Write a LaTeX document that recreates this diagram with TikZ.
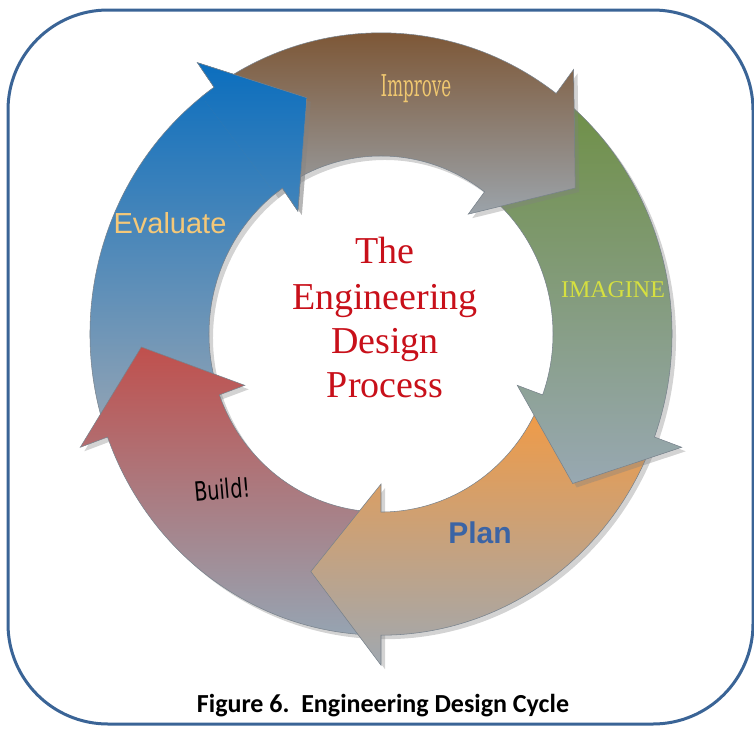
\documentclass[tikz,border=0pt]{standalone}
\usepackage{fontspec}
\usepackage{graphicx}
\setmainfont{Liberation Serif}
\setsansfont{Liberation Sans}
\newfontfamily\captionfont{Carlito}
\newfontfamily\improvefont{DejaVu Serif Condensed}
\newfontfamily\buildfont{DejaVu Sans}
\usetikzlibrary{shadows}

\definecolor{frameblue}{RGB}{58,100,150}
\definecolor{improvetop}{RGB}{122,79,42}
\definecolor{improvebot}{RGB}{155,163,170}
\definecolor{imaginetop}{RGB}{110,143,68}
\definecolor{imaginebot}{RGB}{152,168,178}
\definecolor{plantop}{RGB}{245,154,64}
\definecolor{planbot}{RGB}{160,168,176}
\definecolor{buildtop}{RGB}{192,80,77}
\definecolor{buildbot}{RGB}{150,164,178}
\definecolor{evaltop}{RGB}{11,110,190}
\definecolor{evalbot}{RGB}{150,165,180}
\definecolor{titlered}{RGB}{200,16,26}

\begin{document}
\begin{tikzpicture}[x=0.75pt,y=0.75pt,yscale=-1,xscale=1,
    ringarrow/.style={draw={rgb, 255:red, 120; green, 130; blue, 140 }, line width=0.4,
      drop shadow={shadow xshift=3pt, shadow yshift=-3pt, opacity=0.35}}]
        \useasboundingbox (0,0) rectangle (754,729);

        %Shape: Rounded Rect [id:frame]
        \draw [color=frameblue, line width=2.25, rounded corners=75pt] (8,10) rectangle (753,724);

        \begin{scope}[shift={(381,334)}, yscale=-1.035]
        %Shape: Arrow [id:evaluate]
        \path [ringarrow, top color=evaltop, bottom color=evalbot] (200:291) arc [start angle=200, end angle=125, radius=291] -- (125:320) -- (108:240) -- (125:145) -- (125:172) arc [start angle=125, end angle=200, radius=172] -- cycle ;
        %Shape: Arrow [id:build]
        \path [ringarrow, top color=buildtop, bottom color=buildbot] (-90:291) arc [start angle=-90, end angle=-160, radius=291] -- (-160:320) -- (-177:240) -- (-160:145) -- (-160:172) arc [start angle=-160, end angle=-90, radius=172] -- cycle ;
        %Shape: Arrow [id:plan]
        \path [ringarrow, top color=plantop, bottom color=planbot] (-20:291) arc [start angle=-20, end angle=-90, radius=291] -- (-90:320) -- (-107:240) -- (-90:145) -- (-90:172) arc [start angle=-90, end angle=-20, radius=172] -- cycle ;
        %Shape: Arrow [id:imagine]
        \path [ringarrow, top color=imaginetop, bottom color=imaginebot] (53:291) arc [start angle=53, end angle=-20, radius=291] -- (-20:320) -- (-37:240) -- (-20:145) -- (-20:172) arc [start angle=-20, end angle=53, radius=172] -- cycle ;
        %Shape: Arrow [id:improve]
        \path [ringarrow, top color=improvetop, bottom color=improvebot] (125:291) arc [start angle=125, end angle=53, radius=291] -- (53:320) -- (36:240) -- (53:145) -- (53:172) arc [start angle=53, end angle=125, radius=172] -- cycle ;
        %Shape: Arrow head again, on top of the improve tail
        \begin{scope}
        \clip (128:350) -- (102:245) -- (128:115) -- cycle ;
        \path [ringarrow, top color=evaltop, bottom color=evalbot] (200:291) arc [start angle=200, end angle=125, radius=291] -- (125:320) -- (108:240) -- (125:145) -- (125:172) arc [start angle=125, end angle=200, radius=172] -- cycle ;
        \end{scope}
        \end{scope}

        % Text Node
        \draw (416,96) node [anchor=base][inner sep=0.75pt] (improve) [text={rgb, 255:red, 240; green, 200; blue, 112 }] {\improvefont\fontsize{22.5}{27}\selectfont\scalebox{0.62}[1]{Improve}};
        % Text Node
        \draw (613,297) node [anchor=base][inner sep=0.75pt] (imagine) [text={rgb, 255:red, 214; green, 224; blue, 64 }] {\fontsize{18}{22}\selectfont IMAGINE};
        % Text Node
        \draw (170,233) node [anchor=base][inner sep=0.75pt] (evaluate) [text={rgb, 255:red, 245; green, 200; blue, 120 }] {\sffamily\fontsize{21.75}{26}\selectfont Evaluate};
        % Text Node
        \draw (480,543) node [anchor=base][inner sep=0.75pt] (plan) [text={rgb, 255:red, 59; green, 100; blue, 165 }] {\sffamily\bfseries\fontsize{22.5}{27}\selectfont Plan};
        % Text Node
        \draw (223,499) node [anchor=base][inner sep=0.75pt, rotate=5] (build) {\buildfont\fontsize{20}{24}\selectfont\scalebox{0.72}[1]{Build!}};

        % Text Node
        \draw (385,263) node [anchor=base][inner sep=0.75pt] (title1) [text=titlered] {\fontsize{28.5}{33}\selectfont The};
        % Text Node
        \draw (385,309) node [anchor=base][inner sep=0.75pt] (title2) [text=titlered] {\fontsize{28.5}{33}\selectfont Engineering};
        % Text Node
        \draw (385,353) node [anchor=base][inner sep=0.75pt] (title3) [text=titlered] {\fontsize{28.5}{33}\selectfont Design};
        % Text Node
        \draw (385,397) node [anchor=base][inner sep=0.75pt] (title4) [text=titlered] {\fontsize{28.5}{33}\selectfont Process};

        % Text Node
        \draw (383,712) node [anchor=base][inner sep=0.75pt] (caption) {\captionfont\bfseries\fontsize{19.5}{23}\selectfont Figure 6.~~Engineering Design Cycle};

\end{tikzpicture}
\end{document}
